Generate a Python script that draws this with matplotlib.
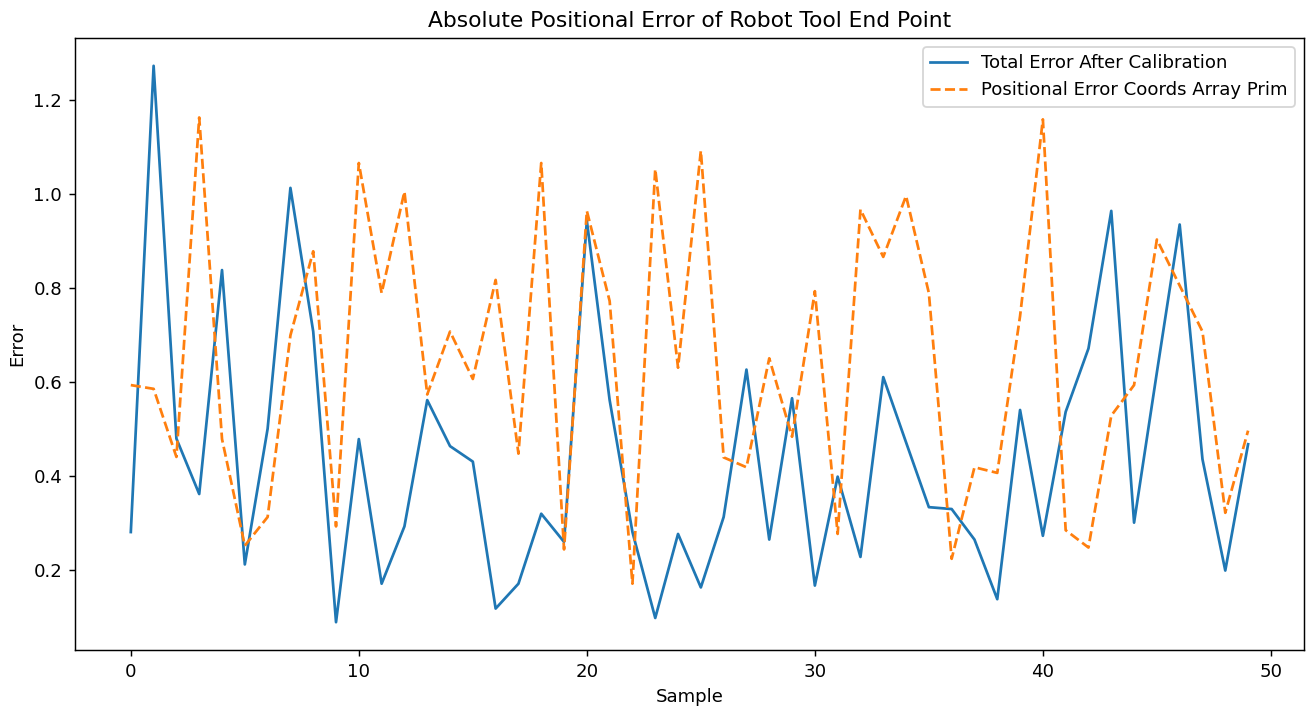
import numpy as np
import matplotlib.pyplot as plt

# values
total_error = [0.280, 1.273, 0.479, 0.361, 0.838, 0.211, 0.500, 1.013, 0.707, 0.088,
               0.478, 0.170, 0.292, 0.561, 0.463, 0.430, 0.117, 0.170, 0.319, 0.259,
               0.943, 0.561, 0.280, 0.097, 0.276, 0.162, 0.312, 0.626, 0.264, 0.565,
               0.166, 0.398, 0.227, 0.610, 0.471, 0.333, 0.329, 0.264, 0.137, 0.540,
               0.272, 0.536, 0.671, 0.964, 0.300, 0.620, 0.935, 0.435, 0.198, 0.467]

prim_error = [0.593, 0.585, 0.440, 1.163, 0.478, 0.251, 0.312, 0.699, 0.878, 0.292,
              1.066, 0.789, 1.005, 0.573, 0.707, 0.606, 0.817, 0.447, 1.066, 0.243,
              0.964, 0.772, 0.170, 1.053, 0.630, 1.092, 0.439, 0.418, 0.650, 0.483,
              0.793, 0.276, 0.967, 0.866, 0.996, 0.789, 0.223, 0.418, 0.406, 0.740,
              1.159, 0.284, 0.247, 0.528, 0.593, 0.903, 0.805, 0.707, 0.321, 0.496]

samples = np.arange(len(total_error))

dpi = 130.8
fig, ax = plt.subplots(figsize=(1308 / dpi, 709 / dpi), dpi=dpi)
fig.subplots_adjust(left=0.0573, right=0.9969, top=0.9464, bottom=0.0832)

ax.plot(samples, total_error, label='Total Error After Calibration')
ax.plot(samples, prim_error, linestyle='--', label='Positional Error Coords Array Prim')

ax.set_title('Absolute Positional Error of Robot Tool End Point')
ax.set_xlabel('Sample')
ax.set_ylabel('Error')
ax.legend(loc='upper right')

fig.savefig('out.png', dpi=dpi)
